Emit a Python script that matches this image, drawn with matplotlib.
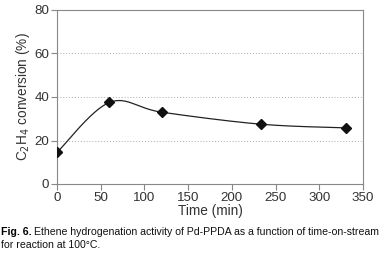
import numpy as np
import matplotlib.pyplot as plt

plt.rcParams['font.family'] = ['Liberation Sans', 'DejaVu Sans']

# data
time_min = [0, 60, 120, 233, 330]
conversion = [14.5, 37.5, 33.0, 27.5, 25.8]
x_ticks = [0, 50, 100, 150, 200, 250, 300, 350]
y_ticks = [0, 20, 40, 60, 80]


# Catmull-Rom style smoothing, like a spreadsheet "smoothed line"
def smooth_line(x, y, n=40, tension=0.5):
    x = np.asarray(x, float)
    y = np.asarray(y, float)
    px = np.concatenate([[x[0]], x, [x[-1]]])
    py = np.concatenate([[y[0]], y, [y[-1]]])
    xs, ys = [], []
    for i in range(1, len(px) - 2):
        p0, p1, p2, p3 = (np.array([px[j], py[j]]) for j in range(i - 1, i + 3))
        m1 = tension * (p2 - p0)
        m2 = tension * (p3 - p1)
        t = np.linspace(0, 1, n)[:, None]
        h00 = 2 * t**3 - 3 * t**2 + 1
        h10 = t**3 - 2 * t**2 + t
        h01 = -2 * t**3 + 3 * t**2
        h11 = t**3 - t**2
        pts = h00 * p1 + h10 * m1 + h01 * p2 + h11 * m2
        xs.extend(pts[:, 0])
        ys.extend(pts[:, 1])
    return np.array(xs), np.array(ys)


fig = plt.figure(figsize=(3.9, 2.62), dpi=100)
ax = fig.add_axes([57 / 390, 1 - 184 / 262, 306 / 390, 174 / 262])

sx, sy = smooth_line(time_min, conversion, tension=0.5)
ax.plot(sx, sy, color='#222222', lw=0.9, zorder=3)
ax.plot(time_min, conversion, linestyle='none', marker='D', ms=5.5,
        color='#111111', zorder=4)

ax.set_xlim(0, 350)
ax.set_ylim(0, 80)
ax.set_xticks(x_ticks)
ax.set_yticks(y_ticks)
for v in [20, 40, 60]:
    ax.axhline(v, color='#aaaaaa', lw=0.7, linestyle=(0, (1, 2)), zorder=1)

for s in ax.spines.values():
    s.set_color('#888888')
    s.set_linewidth(0.8)
ax.tick_params(direction='out', length=4, width=0.8, color='#888888',
               labelsize=9.6, labelcolor='#333333', pad=1.5)
ax.set_xlabel('Time (min)', fontsize=9.8, color='#333333', labelpad=0)
ax.set_ylabel('C$_2$H$_4$ conversion (%)', fontsize=9.8, color='#333333', labelpad=2)

# caption: bold "Fig. 6." followed by regular text
y1 = 1 - 232 / 262
y2 = 1 - 245 / 262
t1 = fig.text(0.003, y1, 'Fig. 6.', fontsize=7.6, fontweight='bold',
              color='black', va='center')
fig.canvas.draw()
bb = t1.get_window_extent().transformed(fig.transFigure.inverted())
fig.text(bb.x1 + 0.006, y1,
         'Ethene hydrogenation activity of Pd-PPDA as a function of time-on-stream',
         fontsize=7.6, color='#111111', va='center')
fig.text(0.003, y2, 'for reaction at 100°C.', fontsize=7.6,
         color='#111111', va='center')

fig.savefig('out.png', dpi=100)
